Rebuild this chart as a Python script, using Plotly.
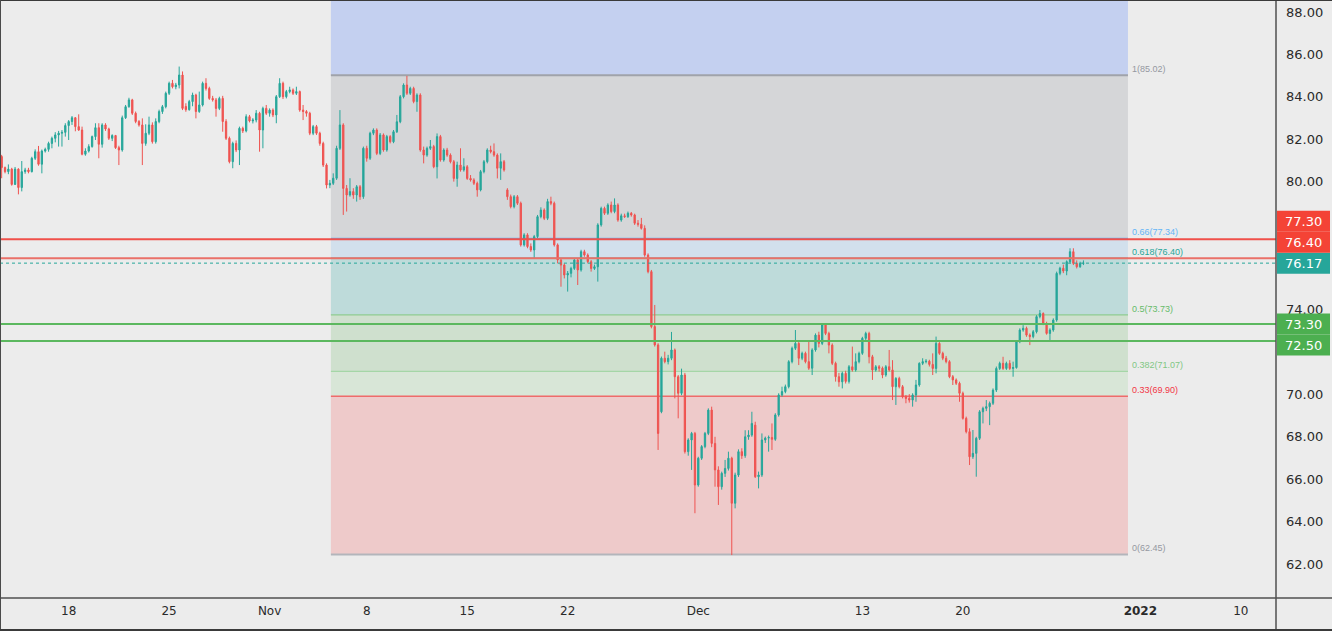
import plotly.graph_objects as go

# ---------------- data (4h candles) ----------------
opens = [
    81.19, 80.67, 80.48, 80.60, 79.88, 80.60, 79.73, 80.48, 80.56, 80.48,
    81.11, 81.42, 80.83, 81.45, 81.53, 81.81, 82.05, 82.21, 82.29, 82.33,
    82.65, 82.84, 83.02, 82.60, 82.44, 81.30, 81.45, 81.66, 82.13, 82.55,
    81.77, 82.68, 82.49, 82.05, 82.18, 81.61, 81.50, 83.02, 83.54, 83.86,
    83.23, 82.84, 82.68, 81.81, 82.29, 82.68, 81.89, 82.84, 83.31, 83.54,
    84.17, 84.64, 84.48, 84.56, 85.03, 83.55, 83.40, 83.78, 84.09, 83.31,
    83.62, 84.64, 84.40, 83.93, 83.86, 83.46, 83.93, 82.84, 82.05, 80.95,
    81.81, 81.50, 82.52, 82.40, 83.07, 82.87, 82.91, 83.23, 82.44, 83.46,
    83.23, 83.38, 83.15, 84.01, 84.64, 84.01, 84.25, 84.33, 84.17, 84.25,
    83.38, 83.31, 83.23, 82.29, 82.60, 82.29, 81.81, 80.79, 79.85, 79.93,
    80.17, 81.58, 82.68, 79.69, 79.38, 79.54, 79.38, 79.77, 79.30, 81.58,
    81.11, 82.29, 82.44, 81.34, 82.21, 81.50, 82.13, 81.89, 82.36, 82.83,
    84.01, 84.56, 84.17, 84.40, 83.78, 84.09, 81.50, 81.26, 81.58, 81.66,
    80.71, 82.13, 81.03, 81.50, 81.26, 80.95, 80.16, 80.79, 80.56, 80.71,
    80.16, 80.09, 79.93, 79.62, 80.48, 80.95, 81.50, 81.42, 81.26, 80.64,
    80.95, 79.62, 79.30, 78.83, 79.30, 78.99, 77.03, 77.50, 76.95, 76.79,
    77.42, 78.36, 78.67, 78.28, 79.07, 78.99, 77.03, 76.32, 76.08, 75.61,
    75.69, 75.92, 76.32, 75.85, 76.71, 76.55, 76.24, 75.92, 76.00, 77.97,
    78.75, 78.52, 78.91, 78.60, 78.91, 78.20, 78.40, 78.36, 78.52, 78.44,
    78.05, 78.00, 77.81, 76.55, 75.77, 73.18, 72.32, 69.17, 71.69, 71.53,
    71.69, 72.08, 70.82, 70.04, 70.90, 67.29, 67.84, 68.15, 65.72, 66.98,
    67.53, 68.15, 69.25, 67.68, 66.43, 65.64, 66.27, 66.50, 66.98, 64.86,
    66.19, 67.29, 67.10, 67.99, 68.07, 68.54, 66.11, 66.19, 67.84, 67.93,
    67.96, 67.87, 69.02, 69.96, 70.12, 70.35, 71.53, 72.16, 72.39, 71.69,
    71.92, 71.53, 71.22, 72.08, 72.78, 72.39, 73.26, 72.86, 72.31, 71.45,
    70.82, 70.58, 70.98, 70.60, 71.29, 71.14, 71.53, 71.92, 72.63, 72.86,
    71.76, 71.14, 71.29, 71.22, 70.90, 71.29, 71.14, 70.35, 70.74, 70.35,
    69.88, 69.80, 69.72, 69.96, 70.43, 71.45, 71.53, 71.55, 71.40, 71.21,
    72.39, 71.92, 71.69, 71.53, 70.82, 70.67, 70.51, 70.04, 68.86, 68.23,
    67.05, 67.21, 67.92, 69.17, 69.33, 69.41, 69.57, 70.19, 71.21, 71.45,
    71.21, 71.45, 71.21, 71.25, 72.47, 73.02, 73.10, 72.78, 72.71, 72.94,
    73.65, 73.80, 73.33, 72.86, 73.02, 73.49, 75.69, 75.93, 75.80, 76.24,
    76.71, 76.16, 76.00, 76.16,
]
highs = [
    81.27, 80.72, 80.82, 80.66, 80.70, 80.64, 80.98, 80.66, 80.66, 81.18,
    81.53, 81.69, 81.52, 81.61, 81.89, 82.13, 82.34, 82.40, 82.44, 82.76,
    82.91, 83.10, 83.05, 83.18, 82.60, 81.58, 81.77, 82.18, 82.76, 82.76,
    82.76, 82.76, 82.55, 82.24, 82.21, 81.70, 83.12, 83.62, 83.96, 83.91,
    83.31, 82.91, 82.99, 82.71, 83.07, 82.80, 82.99, 83.40, 83.62, 84.25,
    84.72, 84.80, 84.66, 85.43, 85.20, 83.70, 83.86, 84.20, 84.15, 84.25,
    84.72, 84.88, 84.48, 84.05, 83.95, 84.01, 84.05, 82.95, 82.13, 81.89,
    81.95, 82.60, 82.60, 83.18, 83.15, 83.00, 83.38, 83.30, 83.54, 83.62,
    83.46, 83.46, 84.09, 84.88, 84.72, 84.33, 84.48, 84.40, 84.48, 84.30,
    83.62, 83.38, 83.30, 82.68, 82.68, 82.36, 81.89, 80.87, 80.09, 80.40,
    81.70, 83.38, 82.76, 79.85, 80.17, 79.70, 79.85, 79.85, 81.66, 81.70,
    82.36, 82.52, 82.52, 82.30, 82.28, 82.21, 82.20, 82.44, 83.15, 84.09,
    84.64, 84.99, 84.48, 84.48, 84.17, 84.17, 81.66, 81.66, 81.97, 81.74,
    82.28, 82.21, 81.58, 81.60, 81.34, 81.03, 80.95, 81.58, 81.11, 80.79,
    80.32, 80.17, 80.01, 80.56, 81.03, 81.58, 81.70, 81.81, 81.34, 81.34,
    81.03, 79.70, 79.40, 79.38, 79.38, 79.07, 77.58, 77.58, 77.10, 77.50,
    78.44, 78.80, 78.75, 79.20, 79.30, 79.07, 77.10, 76.40, 76.16, 75.80,
    76.00, 76.40, 76.40, 76.80, 76.80, 76.63, 76.32, 76.10, 78.05, 78.83,
    78.83, 78.99, 79.07, 79.22, 78.99, 78.50, 78.50, 78.60, 78.58, 78.50,
    78.20, 78.30, 77.95, 76.63, 75.85, 74.20, 72.40, 71.77, 72.00, 71.85,
    72.93, 72.15, 70.90, 71.20, 71.00, 67.92, 68.22, 68.22, 67.05, 67.60,
    68.22, 69.33, 69.41, 67.99, 66.60, 66.35, 66.90, 67.29, 67.05, 66.30,
    67.40, 67.45, 68.30, 68.30, 69.17, 68.70, 66.35, 68.15, 68.00, 68.05,
    68.62, 69.10, 70.04, 70.35, 70.45, 71.60, 72.24, 73.02, 72.47, 72.00,
    72.00, 72.47, 72.16, 72.86, 72.94, 73.33, 73.33, 72.94, 72.39, 71.53,
    71.00, 71.06, 71.10, 71.37, 72.24, 71.92, 72.00, 72.70, 72.94, 72.94,
    71.85, 71.37, 71.37, 71.30, 71.37, 72.08, 71.60, 70.80, 70.82, 70.43,
    69.96, 70.00, 70.04, 70.67, 71.50, 71.69, 71.65, 71.62, 71.92, 72.71,
    72.45, 72.00, 71.80, 71.60, 70.90, 70.74, 70.59, 70.12, 68.94, 68.39,
    68.31, 67.99, 69.25, 69.41, 69.72, 69.65, 70.27, 71.30, 71.53, 71.76,
    71.53, 71.60, 71.53, 72.55, 73.10, 73.25, 73.18, 72.86, 73.02, 73.72,
    73.96, 73.85, 73.41, 73.10, 73.57, 75.77, 76.00, 76.10, 76.30, 76.87,
    76.87, 76.30, 76.24, 76.30,
]
lows = [
    80.17, 80.40, 80.36, 79.82, 79.85, 79.41, 79.55, 80.38, 80.40, 80.44,
    81.03, 80.76, 80.40, 81.38, 81.42, 81.58, 81.86, 81.66, 81.66, 82.13,
    81.97, 82.68, 82.38, 82.40, 81.25, 81.23, 81.38, 81.61, 81.97, 81.11,
    81.61, 82.40, 81.97, 81.92, 81.55, 80.79, 81.42, 82.96, 83.49, 83.15,
    82.76, 82.60, 80.79, 81.70, 82.20, 81.80, 81.80, 82.76, 83.20, 83.46,
    84.09, 84.40, 84.36, 84.40, 83.38, 83.30, 83.35, 83.56, 82.99, 83.25,
    83.55, 84.30, 83.86, 83.78, 83.07, 83.38, 82.36, 81.97, 80.87, 80.64,
    81.40, 80.79, 82.30, 82.33, 82.80, 82.75, 82.80, 81.42, 81.58, 83.15,
    83.07, 83.05, 82.76, 83.95, 83.90, 83.93, 84.17, 84.09, 84.09, 83.30,
    82.91, 83.07, 82.20, 82.20, 82.21, 81.70, 80.70, 79.69, 79.70, 79.85,
    80.09, 81.50, 78.44, 78.60, 79.30, 79.20, 79.07, 79.15, 79.20, 80.95,
    81.03, 82.20, 81.26, 81.26, 81.42, 81.42, 81.81, 81.82, 82.30, 82.76,
    83.93, 84.09, 84.09, 83.70, 83.30, 81.42, 80.87, 81.18, 81.50, 80.64,
    80.16, 80.95, 80.95, 81.18, 80.87, 80.01, 79.77, 80.48, 80.48, 80.09,
    80.01, 79.85, 79.30, 79.55, 80.40, 80.87, 81.34, 81.18, 80.16, 80.09,
    80.48, 79.15, 78.75, 78.75, 78.91, 76.95, 76.95, 76.87, 76.70, 76.40,
    77.35, 78.28, 78.20, 78.20, 78.90, 76.95, 76.16, 75.06, 75.45, 74.83,
    75.50, 75.85, 75.14, 75.77, 76.47, 76.16, 75.77, 75.85, 75.30, 77.89,
    78.44, 78.44, 78.52, 78.52, 78.12, 78.12, 78.30, 78.30, 78.36, 77.97,
    77.89, 77.75, 76.47, 75.69, 73.10, 72.24, 67.37, 69.10, 71.45, 71.40,
    71.60, 69.80, 68.86, 69.95, 67.20, 67.10, 66.43, 64.39, 65.64, 66.90,
    67.45, 68.07, 67.50, 65.64, 64.78, 65.50, 66.10, 66.40, 62.42, 64.62,
    66.10, 66.95, 67.00, 67.85, 67.99, 66.05, 65.56, 66.10, 67.70, 67.29,
    67.37, 67.80, 68.94, 69.88, 70.04, 70.27, 71.45, 72.08, 71.37, 71.60,
    71.45, 71.14, 70.90, 72.00, 72.20, 72.31, 72.78, 71.92, 71.37, 70.59,
    70.35, 70.27, 70.50, 70.50, 71.06, 71.06, 71.45, 71.85, 72.55, 71.45,
    70.67, 71.06, 71.06, 70.75, 70.82, 71.06, 69.72, 69.49, 70.27, 69.80,
    69.57, 69.60, 69.41, 69.64, 70.35, 71.37, 71.45, 71.30, 70.90, 70.98,
    71.85, 71.60, 71.45, 70.75, 70.43, 70.43, 69.64, 68.80, 68.15, 66.66,
    66.95, 66.11, 67.84, 68.62, 69.20, 68.54, 69.49, 70.10, 71.14, 71.14,
    71.14, 71.14, 70.82, 71.20, 72.40, 72.94, 72.70, 72.31, 72.63, 72.86,
    73.57, 73.25, 72.80, 72.55, 72.94, 73.41, 75.60, 75.70, 75.60, 76.16,
    76.08, 75.92, 75.95, 76.08,
]
closes = [
    80.67, 80.48, 80.60, 79.88, 80.60, 79.73, 80.48, 80.56, 80.48, 81.11,
    81.42, 80.83, 81.45, 81.53, 81.81, 82.05, 82.21, 82.29, 82.33, 82.65,
    82.84, 83.02, 82.60, 82.44, 81.30, 81.45, 81.66, 82.13, 82.55, 81.77,
    82.68, 82.49, 82.05, 82.18, 81.61, 81.50, 83.02, 83.54, 83.86, 83.23,
    82.84, 82.68, 81.81, 82.29, 82.68, 81.89, 82.84, 83.31, 83.54, 84.17,
    84.64, 84.48, 84.56, 85.03, 83.46, 83.40, 83.78, 84.09, 83.31, 83.62,
    84.64, 84.40, 83.93, 83.86, 83.46, 83.93, 82.84, 82.05, 80.95, 81.81,
    81.50, 82.52, 82.40, 83.07, 82.87, 82.91, 83.23, 82.44, 83.46, 83.23,
    83.38, 83.15, 84.01, 84.64, 84.01, 84.25, 84.33, 84.17, 84.25, 83.38,
    83.31, 83.23, 82.29, 82.60, 82.29, 81.81, 80.79, 79.85, 79.93, 80.17,
    81.58, 82.68, 79.69, 79.38, 79.54, 79.38, 79.77, 79.30, 81.58, 81.11,
    82.29, 82.44, 81.34, 82.21, 81.50, 82.13, 81.89, 82.36, 82.83, 84.01,
    84.56, 84.17, 84.40, 83.78, 84.09, 81.50, 81.26, 81.58, 81.66, 80.71,
    82.13, 81.03, 81.50, 81.26, 80.95, 80.16, 80.79, 80.56, 80.71, 80.16,
    80.09, 79.93, 79.62, 80.48, 80.95, 81.50, 81.42, 81.26, 80.64, 80.95,
    80.56, 79.30, 78.83, 79.30, 78.99, 77.03, 77.50, 76.95, 76.79, 77.42,
    78.36, 78.67, 78.28, 79.07, 78.99, 77.03, 76.32, 76.08, 75.61, 75.69,
    75.92, 76.32, 75.85, 76.71, 76.55, 76.24, 75.92, 76.00, 77.97, 78.75,
    78.52, 78.91, 78.60, 78.91, 78.20, 78.40, 78.36, 78.52, 78.44, 78.05,
    78.00, 77.81, 76.55, 75.77, 73.18, 72.32, 68.15, 71.69, 71.53, 71.69,
    72.08, 70.82, 70.04, 70.90, 67.29, 67.84, 68.15, 65.72, 66.98, 67.53,
    68.15, 69.25, 67.68, 66.43, 65.64, 66.27, 66.50, 66.98, 64.86, 66.19,
    67.29, 67.10, 67.99, 68.07, 68.62, 66.11, 66.19, 67.84, 67.93, 67.96,
    67.87, 69.02, 69.96, 70.12, 70.35, 71.53, 72.16, 72.39, 71.69, 71.92,
    71.53, 71.22, 72.08, 72.78, 72.39, 73.26, 72.86, 72.31, 71.45, 70.82,
    70.58, 70.98, 70.60, 71.29, 71.14, 71.53, 71.92, 72.63, 72.86, 71.76,
    71.14, 71.29, 71.22, 70.90, 71.29, 71.14, 70.35, 70.74, 70.35, 69.88,
    69.80, 69.72, 69.96, 70.43, 71.45, 71.53, 71.55, 71.40, 71.21, 72.39,
    71.92, 71.69, 71.53, 70.82, 70.67, 70.51, 70.04, 68.86, 68.23, 67.05,
    67.21, 67.92, 69.17, 69.33, 69.41, 69.57, 70.19, 71.21, 71.45, 71.21,
    71.45, 71.21, 71.25, 72.47, 73.02, 73.10, 72.78, 72.71, 72.94, 73.65,
    73.80, 73.33, 72.86, 73.02, 73.49, 75.69, 75.93, 75.80, 76.24, 76.71,
    76.16, 76.00, 76.16, 76.17,
]

# date ticks: bar index at which each label sits, and its text
tick_bars = [20, 50, 80, 109, 139, 169, 208, 257, 287, 340, 370]
tick_text = ["18", "25", "Nov", "8", "15", "22", "Dec", "13", "20", "<b>2022</b>", "10"]
price_ticks = [62, 64, 66, 68, 70, 72, 74, 76, 78, 80, 82, 84, 86, 88]

# Fibonacci retracement
fib_ratios = [1, 0.66, 0.618, 0.5, 0.382, 0.33, 0]
fib_prices = [85.02, 77.34, 76.40, 73.73, 71.07, 69.90, 62.45]
fib_start_bar = 98.3
fib_end_bar = 336.3

# horizontal levels
red_levels = [77.30, 76.40]
green_levels = [73.30, 72.50]
last_price = 76.17

# ---------------- styling ----------------
W, H = 1332, 631
ML, MR, MT, MB = 0, 56, 0, 33
PW, PH = W - ML - MR, H - MT - MB
X0, X1 = -0.5, 380.5
Y0, Y1 = 60.397, 88.565
BG = "#ececec"
UP, DN = "#26a69a", "#ef5350"
FONT = "DejaVu Sans"

zone_colors = ["#c4d0f0", "#d5d6d8", "#d2e0ec", "#bedbda", "#cfe0ce", "#d8e6d7", "#eecaca"]
fib_line_colors = ["#a0a3aa", "#64b5f6", "#4db6ac", "#8fcc90", "#a5d6a7", "#ef6b6b", "#b3b5bb"]
fib_text_colors = ["#9598a1", "#64b5f6", "#26a69a", "#66bb6a", "#81c784", "#f23645", "#9598a1"]

bars = list(range(len(closes)))

fig = go.Figure()
fig.add_trace(go.Candlestick(
    x=bars, open=opens, high=highs, low=lows, close=closes,
    increasing=dict(line=dict(color=UP, width=1), fillcolor=UP),
    decreasing=dict(line=dict(color=DN, width=1), fillcolor=DN),
    whiskerwidth=0, hoverinfo="skip", showlegend=False,
))

shapes = []
annotations = []

# fib zones
tops = [Y1] + fib_prices[:-1]
for top, bot, col in zip(tops, fib_prices, zone_colors):
    shapes.append(dict(type="rect", xref="x", yref="y", x0=fib_start_bar, x1=fib_end_bar,
                       y0=bot, y1=top, fillcolor=col, line=dict(width=0), layer="below"))
# fib lines + labels
for r, p, lc, tc in zip(fib_ratios, fib_prices, fib_line_colors, fib_text_colors):
    shapes.append(dict(type="line", xref="x", yref="y", x0=fib_start_bar, x1=fib_end_bar,
                       y0=p, y1=p, line=dict(color=lc, width=2 if r in (1, 0) else 1.3),
                       layer="below"))
    annotations.append(dict(x=fib_end_bar, y=p, xref="x", yref="y", text=f"{r:g}({p:.2f})",
                            showarrow=False, xanchor="left", yanchor="bottom", xshift=2, yshift=-1,
                            font=dict(family="Liberation Sans", size=9, color=tc)))

# full-width horizontal levels
for v in red_levels:
    shapes.append(dict(type="line", xref="paper", yref="y", x0=0, x1=1, y0=v, y1=v,
                       line=dict(color="#f0504a" if v == red_levels[0] else "#ea7068", width=2),
                       layer="above"))
for v in green_levels:
    shapes.append(dict(type="line", xref="paper", yref="y", x0=0, x1=1, y0=v, y1=v,
                       line=dict(color="#5cb85f", width=2), layer="above"))
shapes.append(dict(type="line", xref="paper", yref="y", x0=0, x1=1, y0=last_price, y1=last_price,
                   line=dict(color=UP, width=1, dash="dot"), layer="above"))

# right-axis price labels, stacked to avoid overlap around the last price
ppu = PH / (Y1 - Y0)
lab_h = 21 / ppu
label_pos = {last_price: last_price}
prev = last_price
for v in sorted([v for v in red_levels + green_levels if v > last_price]):
    prev = max(v, prev + lab_h)
    label_pos[v] = prev
prev = last_price
for v in sorted([v for v in red_levels + green_levels if v < last_price], reverse=True):
    prev = min(v, prev - lab_h)
    label_pos[v] = prev
label_color = {v: "#f44336" for v in red_levels}
label_color.update({v: "#4caf50" for v in green_levels})
label_color[last_price] = UP
bx0, bx1 = 1 + 1 / PW, 1 + 54 / PW
for v, c in label_pos.items():
    shapes.append(dict(type="rect", xref="paper", yref="y", x0=bx0, x1=bx1,
                       y0=c - lab_h / 2, y1=c + lab_h / 2,
                       fillcolor=label_color[v], line=dict(width=0), layer="above"))
    annotations.append(dict(x=(bx0 + bx1) / 2, y=c, xref="paper", yref="y", text=f"{v:.2f}",
                            showarrow=False, xanchor="center", yanchor="middle",
                            font=dict(family=FONT, size=13, color="white")))

# axis tick labels that sit underneath a price label box are hidden by it
hide_gap = lab_h / 2 + 3 / ppu
shown_ticks = [t for t in price_ticks
               if all(abs(t - c) > hide_gap for c in label_pos.values())]

# frame lines
ax_col = "#505050"
shapes += [
    dict(type="line", xref="paper", yref="paper", x0=0, x1=W / PW, y0=0, y1=0,
         line=dict(color=ax_col, width=1.5), layer="above"),
    dict(type="line", xref="paper", yref="paper", x0=1, x1=1, y0=-MB / PH, y1=1,
         line=dict(color=ax_col, width=1.5), layer="above"),
    dict(type="line", xref="paper", yref="paper", x0=0, x1=W / PW, y0=1, y1=1,
         line=dict(color="#3a3a3a", width=2), layer="above"),
    dict(type="line", xref="paper", yref="paper", x0=0, x1=0, y0=-MB / PH, y1=1,
         line=dict(color="#4a4a4a", width=2), layer="above"),
    dict(type="line", xref="paper", yref="paper", x0=0, x1=W / PW, y0=-(MB - 1) / PH, y1=-(MB - 1) / PH,
         line=dict(color="#3a3a3a", width=2), layer="above"),
]

fig.update_layout(
    width=W, height=H, margin=dict(l=ML, r=MR, t=MT, b=MB),
    paper_bgcolor=BG, plot_bgcolor=BG,
    shapes=shapes, annotations=annotations,
    showlegend=False, hovermode=False, dragmode=False,
    boxgap=0.45,
    xaxis=dict(range=[X0, X1], tickmode="array", tickvals=tick_bars, ticktext=tick_text,
               showgrid=False, zeroline=False, showline=False, ticks="",
               ticklabelstandoff=4, rangeslider=dict(visible=False),
               tickfont=dict(family=FONT, size=12, color="#2a2a2a"), fixedrange=True),
    yaxis=dict(range=[Y0, Y1], side="right", tickmode="array", tickvals=shown_ticks,
               ticktext=[f"{v:.2f}" for v in shown_ticks],
               showgrid=False, zeroline=False, showline=False, ticks="",
               ticklabelstandoff=9,
               tickfont=dict(family=FONT, size=13, color="#2a2a2a"), fixedrange=True),
)

fig.write_html("out.html", config={"displayModeBar": False})
